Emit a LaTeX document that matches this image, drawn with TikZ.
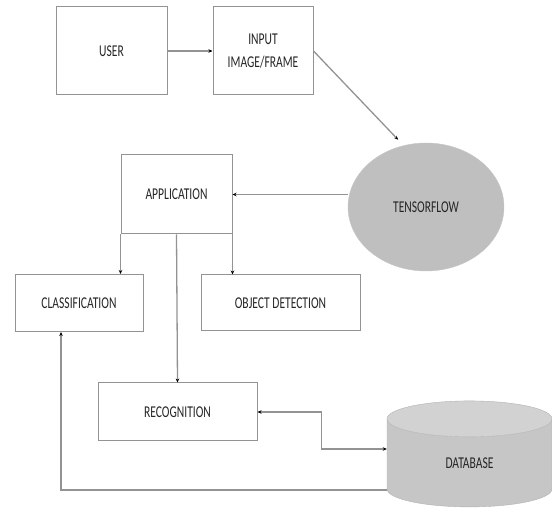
\documentclass[tikz,border=0pt]{standalone}
\usepackage{fontspec}
\newfontfamily\boxfont[FakeStretch=0.7]{Carlito}
\usetikzlibrary{arrows.meta,shapes.geometric,calc}

\begin{document}
\begin{tikzpicture}[x=1pt,y=1pt,>={Stealth[length=4pt,width=3.5pt,color=black]},
          txt/.style={font=\boxfont\fontsize{16.5}{19}\selectfont,text=black!85,align=center},
          b/.style={txt,rectangle,draw=gray!85,line width=1pt,fill=white,inner sep=0pt},
          ln/.style={draw=gray!85,line width=1.3pt}]
        \useasboundingbox (0,0) rectangle (552,517);
        \node[b,minimum width=111,minimum height=88] (user) at (111.5,466) {USER};
        \node[b,minimum width=100,minimum height=88] (inp) at (263,466) {INPUT\\[4pt]IMAGE/FRAME};
        \node[txt,ellipse,fill=gray!50,draw=gray!45,minimum width=156,minimum height=128] (tf) at (426,310) {TENSORFLOW};
        \node[b,minimum width=111,minimum height=79] (app) at (176.5,322.5) {APPLICATION};
        \node[b,minimum width=128,minimum height=57] (cls) at (79,214) {CLASSIFICATION};
        \node[b,minimum width=159,minimum height=56] (obj) at (280.5,214) {OBJECT DETECTION};
        \node[b,minimum width=159,minimum height=58] (rec) at (177.5,105) {RECOGNITION};
        \node[txt,cylinder,shape border rotate=90,aspect=0.75,draw=gray!60,
              cylinder uses custom fill,cylinder body fill=gray!45,cylinder end fill=gray!35,
              minimum width=165,minimum height=106,inner sep=0pt] (db) at (469.5,54) {DATABASE};
        \draw[ln,->] (user) -- (inp);
        \draw[ln,->,shorten >=8pt] (inp.east) -- (tf.110);
        \draw[ln,->] (tf.west |- app.east) -- (app.east);
        \draw[ln,->] (app.south west) -- (app.south west |- cls.north);
        \draw[ln,->] (app.south east) -- (app.south east |- obj.north);
        \draw[ln,->] (app.south) -- (rec.north);
        \draw[ln,<->] (rec.east) -- ++(64,0) |- ($(db.west)+(0,14)$);
        \draw[ln,->] ($(db.west)+(0,-27)$) -| ([xshift=-18pt]cls.south);
      \end{tikzpicture}
\end{document}
